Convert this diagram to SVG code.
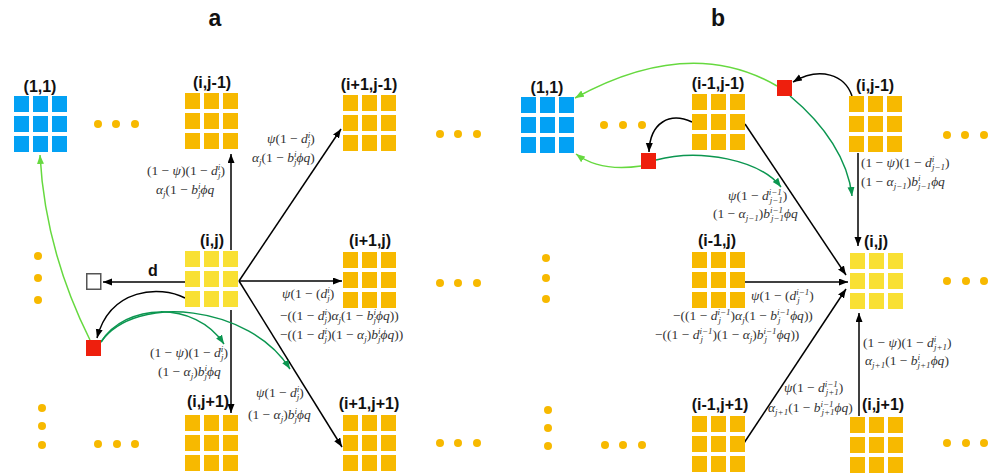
<svg xmlns="http://www.w3.org/2000/svg" xmlns:xlink="http://www.w3.org/1999/xlink" width="1003" height="476" viewBox="0 0 1003 476">
<style>
.t{font-family:"Liberation Sans",Arial,sans-serif;font-weight:bold;font-size:16px;fill:#111;text-anchor:middle}
.ttl{font-family:"Liberation Sans",Arial,sans-serif;font-weight:bold;font-size:23px;fill:#111;text-anchor:middle}
.m{font-family:"Liberation Serif","Times New Roman",serif;font-size:13.5px;fill:#333}
.i{font-style:italic}
.s{font-size:9px;font-style:italic}
.bl{fill:#03a1f4}.or{fill:#f7b900}.ye{fill:#f9e034}
.dot{fill:#f7b900}
.k{fill:none;stroke:#000;stroke-width:1.5}
.lg{fill:none;stroke:#66d93f;stroke-width:1.5}
.dg{fill:none;stroke:#0b9650;stroke-width:1.5}
.red{fill:#ee1f0d}
</style>
<defs>
<g id="grid">
<rect x="0" y="0" width="15" height="16"/><rect x="19" y="0" width="15" height="16"/><rect x="38" y="0" width="15" height="16"/>
<rect x="0" y="20" width="15" height="16"/><rect x="19" y="20" width="15" height="16"/><rect x="38" y="20" width="15" height="16"/>
<rect x="0" y="40" width="15" height="16"/><rect x="19" y="40" width="15" height="16"/><rect x="38" y="40" width="15" height="16"/>
</g>
<marker id="ak" markerUnits="userSpaceOnUse" markerWidth="10" markerHeight="8" refX="9" refY="3.5" orient="auto"><path d="M0,0 L9,3.5 L0,7 z" fill="#000"/></marker>
<marker id="alg" markerUnits="userSpaceOnUse" markerWidth="10" markerHeight="8" refX="9" refY="3.5" orient="auto"><path d="M0,0 L9,3.5 L0,7 z" fill="#66d93f"/></marker>
<marker id="adg" markerUnits="userSpaceOnUse" markerWidth="10" markerHeight="8" refX="9" refY="3.5" orient="auto"><path d="M0,0 L9,3.5 L0,7 z" fill="#0b9650"/></marker>
</defs>
<rect width="1003" height="476" fill="#fff"/>
<text class="ttl" x="215" y="26">a</text>
<text class="ttl" x="718" y="26">b</text>

<g id="connectors">
<line class="k" x1="231" y1="250" x2="231" y2="154" marker-end="url(#ak)"/>
<line class="k" x1="231" y1="310" x2="231" y2="413" marker-end="url(#ak)"/>
<line class="k" x1="185" y1="282" x2="103" y2="282" marker-end="url(#ak)"/>
<line class="k" x1="239" y1="281" x2="341" y2="129" marker-end="url(#ak)"/>
<line class="k" x1="239" y1="281" x2="342" y2="281" marker-end="url(#ak)"/>
<line class="k" x1="239" y1="281" x2="342" y2="447" marker-end="url(#ak)"/>
<path class="k" d="M185,298 C160,285 110,288 97,338" marker-end="url(#ak)"/>
<path class="lg" d="M90,340 Q45,250 40,155" marker-end="url(#alg)"/>
<path class="dg" d="M101,342 C125,303 195,300 224,344" marker-end="url(#adg)"/>
<path class="dg" d="M101,342 C135,293 250,305 290,369" marker-end="url(#adg)"/>
<line class="k" x1="858" y1="153" x2="858" y2="246" marker-end="url(#ak)"/>
<line class="k" x1="745" y1="124" x2="846" y2="275" marker-end="url(#ak)"/>
<line class="k" x1="745" y1="282" x2="848" y2="282" marker-end="url(#ak)"/>
<line class="k" x1="744" y1="443" x2="846" y2="289" marker-end="url(#ak)"/>
<line class="k" x1="859" y1="416" x2="859" y2="313" marker-end="url(#ak)"/>
<path class="k" d="M692,122 C670,112 650,122 649,152" marker-end="url(#ak)"/>
<path class="k" d="M852,96 C845,75 820,66 793,82" marker-end="url(#ak)"/>
<path class="lg" d="M777,86 Q690,35 575,98" marker-end="url(#alg)"/>
<path class="lg" d="M641,166 Q600,172 576,154" marker-end="url(#alg)"/>
<path class="dg" d="M790,96 C825,125 848,160 852,196" marker-end="url(#adg)"/>
<path class="dg" d="M656,160 C700,148 760,160 781,187" marker-end="url(#adg)"/>
</g>

<g id="a-1-1"><text class="t" x="40" y="92">(1,1)</text><use href="#grid" x="14" y="96" class="bl"/></g>
<g id="a-i-jm1"><text class="t" x="212" y="88">(i,j-1)</text><use href="#grid" x="185" y="93" class="or"/></g>
<g id="a-ip1-jm1"><text class="t" x="369" y="90">(i+1,j-1)</text><use href="#grid" x="343" y="95" class="or"/></g>
<g id="a-i-j"><text class="t" x="212" y="246">(i,j)</text><use href="#grid" x="185" y="251" class="ye"/></g>
<g id="a-ip1-j"><text class="t" x="370" y="246">(i+1,j)</text><use href="#grid" x="343" y="252" class="or"/></g>
<g id="a-i-jp1"><text class="t" x="208" y="407">(i,j+1)</text><use href="#grid" x="185" y="415" class="or"/></g>
<g id="a-ip1-jp1"><text class="t" x="369" y="409">(i+1,j+1)</text><use href="#grid" x="343" y="415" class="or"/></g>
<g id="a-d"><rect x="86.75" y="273.75" width="14" height="15.5" fill="#fff" stroke="#555" stroke-width="1.5"/><text class="t" x="153" y="276">d</text></g>
<g id="a-red"><rect class="red" x="86" y="340" width="15" height="16"/></g>
<g id="a-dots">
<circle class="dot" cx="98" cy="124" r="4"/><circle class="dot" cx="116" cy="124" r="4"/><circle class="dot" cx="135" cy="124" r="4"/>
<circle class="dot" cx="440" cy="134" r="4"/><circle class="dot" cx="458" cy="134" r="4"/><circle class="dot" cx="477" cy="134" r="4"/>
<circle class="dot" cx="440" cy="283" r="4"/><circle class="dot" cx="458" cy="283" r="4"/><circle class="dot" cx="477" cy="283" r="4"/>
<circle class="dot" cx="440" cy="443" r="4"/><circle class="dot" cx="458" cy="443" r="4"/><circle class="dot" cx="477" cy="443" r="4"/>
<circle class="dot" cx="38" cy="256" r="4"/><circle class="dot" cx="38" cy="278" r="4"/><circle class="dot" cx="38" cy="300" r="4"/>
<circle class="dot" cx="42" cy="408" r="4"/><circle class="dot" cx="42" cy="426" r="4"/><circle class="dot" cx="42" cy="445" r="4"/>
<circle class="dot" cx="98" cy="444" r="4"/><circle class="dot" cx="117" cy="444" r="4"/><circle class="dot" cx="135" cy="444" r="4"/>
</g>

<g id="b-1-1"><text class="t" x="547" y="93">(1,1)</text><use href="#grid" x="521" y="97" class="bl"/></g>
<g id="b-im1-jm1"><text class="t" x="718" y="89">(i-1,j-1)</text><use href="#grid" x="692" y="94" class="or"/></g>
<g id="b-i-jm1"><text class="t" x="875" y="91">(i,j-1)</text><use href="#grid" x="849" y="96" class="or"/></g>
<g id="b-im1-j"><text class="t" x="717" y="246">(i-1,j)</text><use href="#grid" x="692" y="252" class="or"/></g>
<g id="b-i-j"><text class="t" x="876" y="247">(i,j)</text><use href="#grid" x="850" y="253" class="ye"/></g>
<g id="b-im1-jp1"><text class="t" x="720" y="410">(i-1,j+1)</text><use href="#grid" x="692" y="416" class="or"/></g>
<g id="b-i-jp1"><text class="t" x="883" y="410">(i,j+1)</text><use href="#grid" x="850" y="417" class="or"/></g>
<g id="b-red1"><rect class="red" x="641" y="153" width="15" height="16"/></g>
<g id="b-red2"><rect class="red" x="777" y="80" width="15" height="16"/></g>
<g id="b-dots">
<circle class="dot" cx="604" cy="125" r="4"/><circle class="dot" cx="623" cy="125" r="4"/><circle class="dot" cx="642" cy="125" r="4"/>
<circle class="dot" cx="947" cy="135" r="4"/><circle class="dot" cx="965" cy="135" r="4"/><circle class="dot" cx="984" cy="135" r="4"/>
<circle class="dot" cx="947" cy="281" r="4"/><circle class="dot" cx="966" cy="281" r="4"/><circle class="dot" cx="984" cy="281" r="4"/>
<circle class="dot" cx="947" cy="443" r="4"/><circle class="dot" cx="966" cy="443" r="4"/><circle class="dot" cx="984" cy="443" r="4"/>
<circle class="dot" cx="605" cy="445" r="4"/><circle class="dot" cx="623" cy="445" r="4"/><circle class="dot" cx="642" cy="445" r="4"/>
<circle class="dot" cx="546" cy="258" r="4"/><circle class="dot" cx="546" cy="278" r="4"/><circle class="dot" cx="546" cy="299" r="4"/>
<circle class="dot" cx="548" cy="410" r="4"/><circle class="dot" cx="548" cy="428" r="4"/><circle class="dot" cx="548" cy="446" r="4"/>
</g>

<g id="labels-a">
<text class="m" x="147" y="175">(1 − <tspan class="i">ψ</tspan>)(1 − <tspan class="i">d</tspan><tspan class="s" dy="-5.5">i</tspan><tspan class="s" dx="-2.5" dy="8.5">j</tspan><tspan dy="-3">)</tspan></text>
<text class="m" x="156" y="194"><tspan class="i">α</tspan><tspan class="s" dy="3">j</tspan><tspan dy="-3">(1 − </tspan><tspan class="i">b</tspan><tspan class="s" dy="-5.5">i</tspan><tspan class="s" dx="-2.5" dy="8.5">j</tspan><tspan class="i" dy="-3">ϕq</tspan></text>
<text class="m" x="267" y="143"><tspan class="i">ψ</tspan>(1 − <tspan class="i">d</tspan><tspan class="s" dy="-5.5">i</tspan><tspan class="s" dx="-2.5" dy="8.5">j</tspan><tspan dy="-3">)</tspan></text>
<text class="m" x="252" y="162"><tspan class="i">α</tspan><tspan class="s" dy="3">j</tspan><tspan dy="-3">(1 − </tspan><tspan class="i">b</tspan><tspan class="s" dy="-5.5">i</tspan><tspan class="s" dx="-2.5" dy="8.5">j</tspan><tspan class="i" dy="-3">ϕq</tspan>)</text>
<text class="m" x="282" y="298"><tspan class="i">ψ</tspan>(1 − (<tspan class="i">d</tspan><tspan class="s" dy="-5.5">i</tspan><tspan class="s" dx="-2.5" dy="8.5">j</tspan><tspan dy="-3">)</tspan></text>
<text class="m" x="280" y="320">−((1 − <tspan class="i">d</tspan><tspan class="s" dy="-5.5">i</tspan><tspan class="s" dx="-2.5" dy="8.5">j</tspan><tspan dy="-3">)</tspan><tspan class="i">α</tspan><tspan class="s" dy="3">j</tspan><tspan dy="-3">(1 − </tspan><tspan class="i">b</tspan><tspan class="s" dy="-5.5">i</tspan><tspan class="s" dx="-2.5" dy="8.5">j</tspan><tspan class="i" dy="-3">ϕq</tspan>))</text>
<text class="m" x="280" y="339">−((1 − <tspan class="i">d</tspan><tspan class="s" dy="-5.5">i</tspan><tspan class="s" dx="-2.5" dy="8.5">j</tspan><tspan dy="-3">)(1 − </tspan><tspan class="i">α</tspan><tspan class="s" dy="3">j</tspan><tspan dy="-3">)</tspan><tspan class="i">b</tspan><tspan class="s" dy="-5.5">i</tspan><tspan class="s" dx="-2.5" dy="8.5">j</tspan><tspan class="i" dy="-3">ϕq</tspan>))</text>
<text class="m" x="150" y="357">(1 − <tspan class="i">ψ</tspan>)(1 − <tspan class="i">d</tspan><tspan class="s" dy="-5.5">i</tspan><tspan class="s" dx="-2.5" dy="8.5">j</tspan><tspan dy="-3">)</tspan></text>
<text class="m" x="158" y="376">(1 − <tspan class="i">α</tspan><tspan class="s" dy="3">j</tspan><tspan dy="-3">)</tspan><tspan class="i">b</tspan><tspan class="s" dy="-5.5">i</tspan><tspan class="s" dx="-2.5" dy="8.5">j</tspan><tspan class="i" dy="-3">ϕq</tspan></text>
<text class="m" x="256" y="397"><tspan class="i">ψ</tspan>(1 − <tspan class="i">d</tspan><tspan class="s" dy="-5.5">i</tspan><tspan class="s" dx="-2.5" dy="8.5">j</tspan><tspan dy="-3">)</tspan></text>
<text class="m" x="248" y="419">(1 − <tspan class="i">α</tspan><tspan class="s" dy="3">j</tspan><tspan dy="-3">)</tspan><tspan class="i">b</tspan><tspan class="s" dy="-5.5">i</tspan><tspan class="s" dx="-2.5" dy="8.5">j</tspan><tspan class="i" dy="-3">ϕq</tspan></text>
</g>

<g id="labels-b">
<text class="m" x="861" y="167">(1 − <tspan class="i">ψ</tspan>)(1 − <tspan class="i">d</tspan><tspan class="s" dy="-5.5">i</tspan><tspan class="s" dx="-2.5" dy="8.5">j−1</tspan><tspan dy="-3">)</tspan></text>
<text class="m" x="861" y="186">(1 − <tspan class="i">α</tspan><tspan class="s" dy="3">j−1</tspan><tspan dy="-3">)</tspan><tspan class="i">b</tspan><tspan class="s" dy="-5.5">i</tspan><tspan class="s" dx="-2.5" dy="8.5">j−1</tspan><tspan class="i" dy="-3">ϕq</tspan></text>
<text class="m" x="728" y="200"><tspan class="i">ψ</tspan>(1 − <tspan class="i">d</tspan><tspan class="s" dy="-5.5">i−1</tspan><tspan class="s" dx="-12.1" dy="8.5">j−1</tspan><tspan dy="-3">)</tspan></text>
<text class="m" x="713" y="218">(1 − <tspan class="i">α</tspan><tspan class="s" dy="3">j−1</tspan><tspan dy="-3">)</tspan><tspan class="i">b</tspan><tspan class="s" dy="-5.5">i−1</tspan><tspan class="s" dx="-12.1" dy="8.5">j−1</tspan><tspan class="i" dy="-3">ϕq</tspan></text>
<text class="m" x="751" y="300"><tspan class="i">ψ</tspan>(1 − (<tspan class="i">d</tspan><tspan class="s" dy="-5.5">i−1</tspan><tspan class="s" dx="-12.1" dy="8.5">j</tspan><tspan dx="9.6" dy="-3">)</tspan></text>
<text class="m" x="673" y="320">−((1 − <tspan class="i">d</tspan><tspan class="s" dy="-5.5">i−1</tspan><tspan class="s" dx="-12.1" dy="8.5">j</tspan><tspan dx="9.6" dy="-3">)</tspan><tspan class="i">α</tspan><tspan class="s" dy="3">j</tspan><tspan dy="-3">(1 − </tspan><tspan class="i">b</tspan><tspan class="s" dy="-5.5">i−1</tspan><tspan class="s" dx="-12.1" dy="8.5">j</tspan><tspan class="i" dx="9.6" dy="-3">ϕq</tspan>))</text>
<text class="m" x="655" y="339">−((1 − <tspan class="i">d</tspan><tspan class="s" dy="-5.5">i−1</tspan><tspan class="s" dx="-12.1" dy="8.5">j</tspan><tspan dx="9.6" dy="-3">)(1 − </tspan><tspan class="i">α</tspan><tspan class="s" dy="3">j</tspan><tspan dy="-3">)</tspan><tspan class="i">b</tspan><tspan class="s" dy="-5.5">i−1</tspan><tspan class="s" dx="-12.1" dy="8.5">j</tspan><tspan class="i" dx="9.6" dy="-3">ϕq</tspan>))</text>
<text class="m" x="863" y="347">(1 − <tspan class="i">ψ</tspan>)(1 − <tspan class="i">d</tspan><tspan class="s" dy="-5.5">i</tspan><tspan class="s" dx="-2.5" dy="8.5">j+1</tspan><tspan dy="-3">)</tspan></text>
<text class="m" x="865" y="365"><tspan class="i">α</tspan><tspan class="s" dy="3">j+1</tspan><tspan dy="-3">(1 − </tspan><tspan class="i">b</tspan><tspan class="s" dy="-5.5">i</tspan><tspan class="s" dx="-2.5" dy="8.5">j+1</tspan><tspan class="i" dy="-3">ϕq</tspan>)</text>
<text class="m" x="784" y="392"><tspan class="i">ψ</tspan>(1 − <tspan class="i">d</tspan><tspan class="s" dy="-5.5">i−1</tspan><tspan class="s" dx="-12.1" dy="8.5">j+1</tspan><tspan dy="-3">)</tspan></text>
<text class="m" x="768" y="412"><tspan class="i">α</tspan><tspan class="s" dy="3">j+1</tspan><tspan dy="-3">(1 − </tspan><tspan class="i">b</tspan><tspan class="s" dy="-5.5">i−1</tspan><tspan class="s" dx="-12.1" dy="8.5">j+1</tspan><tspan class="i" dy="-3">ϕq</tspan>)</text>
</g>
</svg>
